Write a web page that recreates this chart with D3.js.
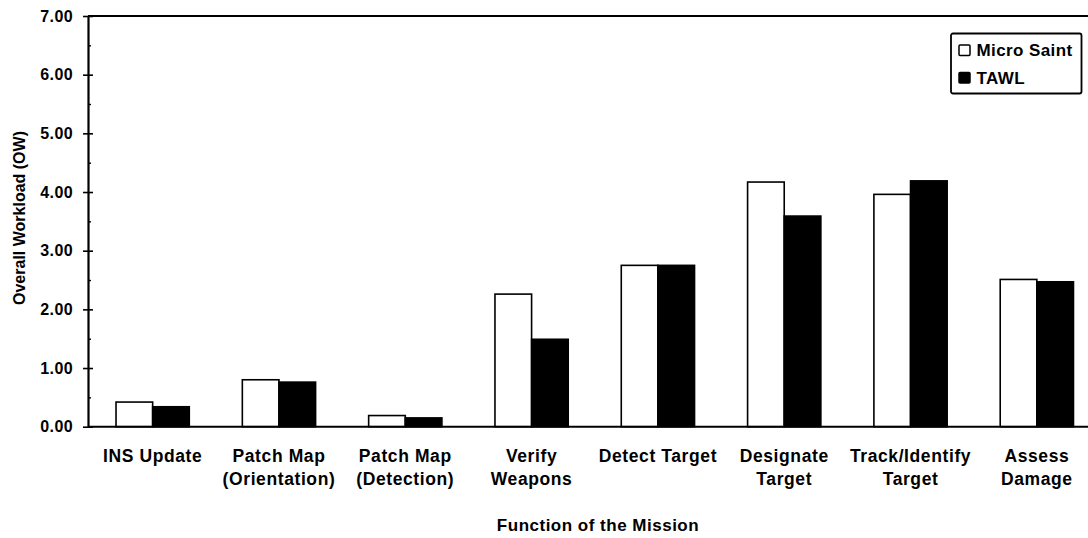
<!DOCTYPE html>
<html>
<head>
<meta charset="utf-8">
<script src="https://cdn.jsdelivr.net/npm/d3@7"></script>
<style>
  body { margin: 0; background: #fff; }
  svg { display: block; }
  text { font-family: "Liberation Sans", Arial, sans-serif; font-weight: bold; fill: #000; }
</style>
</head>
<body>
<svg width="1088" height="538"></svg>
<script>
// data
var categories = ["INS Update", "Patch Map\n(Orientation)", "Patch Map\n(Detection)", "Verify\nWeapons",
    "Detect Target", "Designate\nTarget", "Track/Identify\nTarget", "Assess\nDamage"];
var series = ["Micro Saint", "TAWL"];
var microSaint = [0.42, 0.80, 0.19, 2.26, 2.75, 4.17, 3.96, 2.51];
var tawl = [0.34, 0.76, 0.15, 1.49, 2.75, 3.59, 4.19, 2.47];
var yTicks = [0, 1, 2, 3, 4, 5, 6, 7];

var svg = d3.select("svg");

var x = d3.scaleBand().domain(categories).range([89.5, 1100]).paddingInner(0.42).paddingOuter(0.21),
    x1 = d3.scaleBand().domain(series).range([0, x.bandwidth()]),
    y = d3.scaleLinear().domain([0, 7]).range([426.7, 16]),
    fill = d3.scaleOrdinal().domain(series).range(["#fff", "#000"]);

var rows = categories.map(function (c, i) {
    return {cat: c, values: [{key: "Micro Saint", v: microSaint[i]}, {key: "TAWL", v: tawl[i]}]};
});

// bars
var group = svg.append("g").selectAll("g")
    .data(rows)
    .enter().append("g")
    .attr("transform", function (d) { return "translate(" + x(d.cat) + ",0)"; });

group.selectAll("rect")
    .data(function (d) { return d.values; })
    .enter().append("rect")
    .attr("x", function (d) { return x1(d.key); })
    .attr("y", function (d) { return y(d.v); })
    .attr("width", x1.bandwidth())
    .attr("height", function (d) { return y(0) - y(d.v); })
    .attr("fill", function (d) { return fill(d.key); })
    .attr("stroke", "#000")
    .attr("stroke-width", 1.6);

// top frame line
svg.append("line")
    .attr("x1", 88).attr("x2", 1100)
    .attr("y1", y(7)).attr("y2", y(7))
    .attr("stroke", "#000").attr("stroke-width", 2.2);

// x axis
var xAxis = svg.append("g")
    .attr("transform", "translate(0," + y(0) + ")")
    .call(d3.axisBottom(x).tickSize(0).tickPadding(0));
xAxis.select(".domain").attr("stroke-width", 2).attr("d", "M88,0H1100");
xAxis.selectAll("text").each(function (d) {
    var t = d3.select(this).text(null).attr("y", null).attr("dy", null)
        .style("font-size", "17.5px").style("letter-spacing", "0.6px");
    d.split("\n").forEach(function (line, i) {
        t.append("tspan").attr("x", 0).attr("y", 35 + i * 23.3).text(line);
    });
});

// y axis
var yAxis = svg.append("g")
    .attr("transform", "translate(88,0)")
    .call(d3.axisLeft(y).tickValues(yTicks).tickFormat(d3.format(".2f"))
        .tickSizeInner(5).tickSizeOuter(0).tickPadding(10));
yAxis.select(".domain").attr("stroke-width", 2.2);
yAxis.selectAll(".tick line").attr("stroke-width", 1.6);
yAxis.selectAll("text").style("font-size", "16px").style("letter-spacing", "0.4px");

svg.append("g")
    .attr("transform", "translate(88,0)")
    .call(d3.axisRight(y).tickValues(yTicks).tickFormat("").tickSize(5))
    .call(function (g) { g.select(".domain").remove(); })
    .selectAll("line").attr("stroke-width", 1.6);

svg.append("g")
    .attr("transform", "translate(88,0)")
    .call(d3.axisRight(y).tickValues(yTicks.slice(0, -1).map(function (d) { return d + 0.5; }))
        .tickFormat("").tickSize(3))
    .call(function (g) { g.select(".domain").remove(); })
    .selectAll("line").attr("stroke-width", 1.4);

// axis titles
svg.append("text")
    .attr("x", 598).attr("y", 531)
    .attr("text-anchor", "middle")
    .style("font-size", "17px").style("letter-spacing", "0.5px")
    .text("Function of the Mission");

svg.append("text")
    .attr("transform", "translate(24.5,218) rotate(-90)")
    .attr("text-anchor", "middle")
    .style("font-size", "16px")
    .text("Overall Workload (OW)");

// legend
var legend = svg.append("g").attr("transform", "translate(951,33.5)");
legend.append("rect")
    .attr("width", 130.5).attr("height", 60)
    .attr("rx", 2)
    .attr("fill", "#fff").attr("stroke", "#000").attr("stroke-width", 1.8);

var item = legend.selectAll(".item")
    .data(series)
    .enter().append("g")
    .attr("class", "item")
    .attr("transform", function (d, i) { return "translate(8," + (11.5 + i * 27.5) + ")"; });

item.append("rect")
    .attr("width", 11).attr("height", 10.5)
    .attr("rx", 1)
    .attr("fill", function (d) { return fill(d); })
    .attr("stroke", "#000").attr("stroke-width", 1.5);

item.append("text")
    .attr("x", 17.5).attr("y", 11)
    .style("font-size", "17px").style("letter-spacing", "0.4px")
    .text(function (d) { return d; });
</script>
</body>
</html>
